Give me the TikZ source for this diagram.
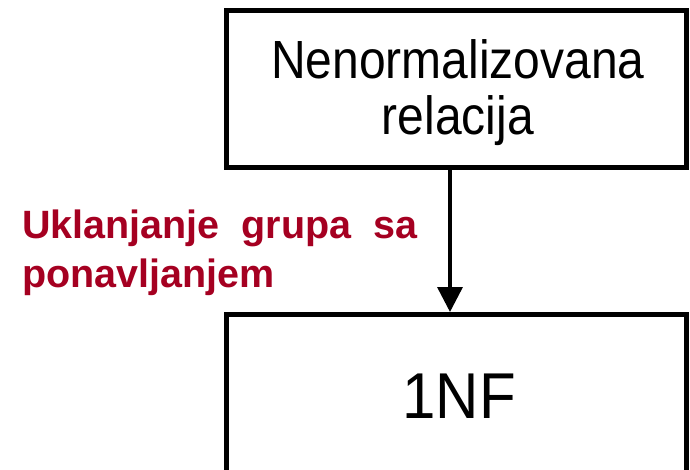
\documentclass[tikz,border=0pt]{standalone}
\usepackage{fontspec}
\setmainfont{Liberation Sans}
\usetikzlibrary{arrows.meta}
\definecolor{labelred}{RGB}{165,0,33}
\tikzset{
  box/.style={draw=black, line width=5pt, minimum width=460.5pt, inner sep=0pt, fill=none},
  boxtext/.style={anchor=base, inner sep=0pt, font=\fontsize{48}{56}\selectfont},
  bigtext/.style={anchor=base, inner sep=0pt, font=\fontsize{60}{70}\selectfont},
  conn/.style={draw=black, line width=3.5pt, -{Triangle[width=25pt,length=25pt]}},
  lbl/.style={anchor=base west, inner sep=0pt, align=left, text=labelred, font=\bfseries\fontsize{39.5}{48}\selectfont}
}
\begin{document}
\begin{tikzpicture}[x=1pt,y=-1pt]
\useasboundingbox (0,0) rectangle (690,470);
\node[box, minimum height=157.5pt] (top) at (456.5,89.25) {};
\node[boxtext] (t1) at (458,79) {\scalebox{1}[1.12]{Nenormalizovana}};
\node[boxtext] (t2) at (458,135) {\scalebox{1}[1.12]{relacija}};
\node[box, minimum height=205.5pt] (bot) at (456.5,417.25) {};
\node[bigtext] (nf) at (459,418) {\scalebox{1}[1.08]{1NF}};
\coordinate (ax) at (450,0);
\draw[conn] (top.south -| ax) -- (bot.north -| ax);
\node[lbl] (lab) at (22,287) {\makebox[395pt][s]{Uklanjanje grupa sa}\\ponavljanjem};
\end{tikzpicture}
\end{document}
